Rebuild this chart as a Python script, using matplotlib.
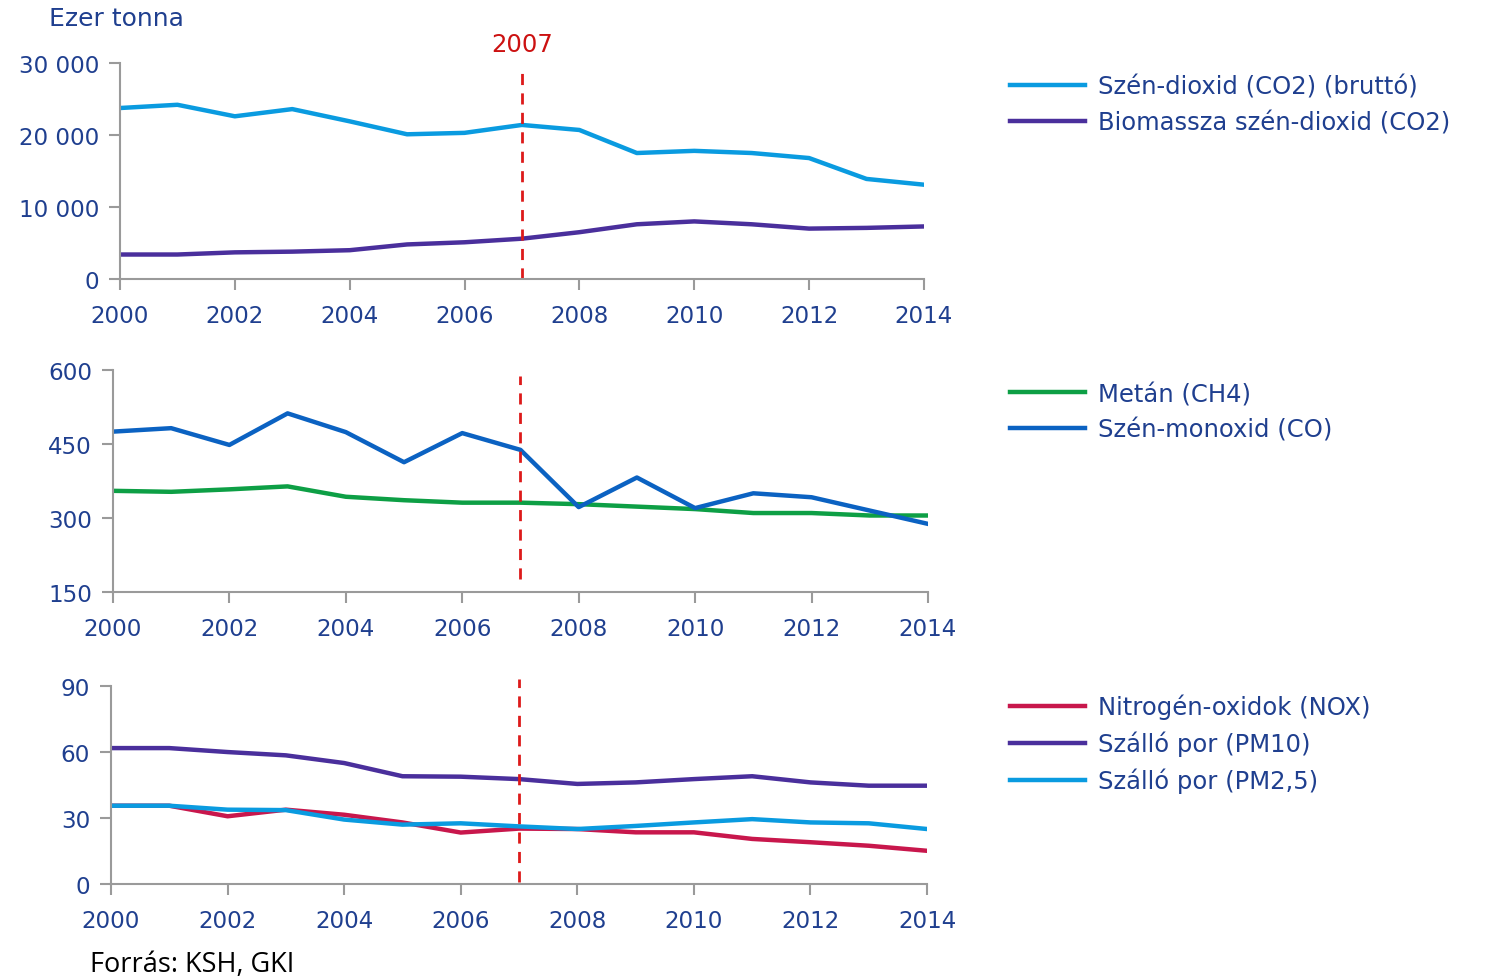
import numpy as np
import matplotlib.pyplot as plt
import matplotlib

matplotlib.rcParams['font.family'] = 'DejaVu Sans'

# Adatok

years = np.arange(2000, 2015)

co2_brutto = [23750, 24200, 22600, 23600, 21900, 20100, 20300, 21400, 20700, 17500, 17800, 17500, 16800, 13900, 13100]
co2_biomassza = [3400, 3400, 3700, 3800, 4000, 4800, 5100, 5600, 6500, 7600, 8000, 7600, 7000, 7100, 7300]

metan = [355, 353, 358, 364, 343, 336, 331, 331, 328, 323, 318, 310, 310, 305, 305]
szen_monoxid = [475, 482, 448, 512, 474, 413, 472, 438, 322, 382, 320, 350, 342, 315, 288]

nox = [35.6, 35.6, 30.8, 33.8, 31.5, 28.0, 23.4, 25.2, 25.0, 23.5, 23.5, 20.5, 19.0, 17.4, 15.1]
pm10 = [61.8, 61.8, 60.0, 58.5, 55.0, 49.0, 48.8, 47.7, 45.5, 46.2, 47.7, 49.0, 46.2, 44.7, 44.7]
pm25 = [35.6, 35.6, 33.8, 33.6, 29.3, 27.0, 27.6, 26.2, 25.0, 26.4, 28.0, 29.5, 28.0, 27.6, 25.0]

navy = '#1f3f8f'
c_lightblue = '#0a9be0'
c_purple = '#4a2f9c'
c_green = '#0d9f45'
c_blue = '#0b62c2'
c_crimson = '#c8174c'
c_red = '#dd1a1a'

fig = plt.figure(figsize=(14.96, 9.79), dpi=100)

ax1 = fig.add_axes([0.0802, 0.714, 0.5374, 0.2206])
ax2 = fig.add_axes([0.0755, 0.3943, 0.5448, 0.2268])
ax3 = fig.add_axes([0.0742, 0.096, 0.5455, 0.2022])


def style(ax, yticks, ylabels):
    for s in ['top', 'right']:
        ax.spines[s].set_visible(False)
    for s in ['left', 'bottom']:
        ax.spines[s].set_color('#9a9a9a')
        ax.spines[s].set_linewidth(1.5)
    ax.set_xlim(2000, 2014)
    ax.set_xticks(range(2000, 2015, 2))
    ax.set_ylim(yticks[0], yticks[-1])
    ax.set_yticks(yticks)
    ax.set_yticklabels(ylabels)
    ax.tick_params(axis='x', direction='out', length=8, width=1.5, color='#9a9a9a',
                   labelsize=16.6, labelcolor=navy, pad=10)
    ax.tick_params(axis='y', direction='out', length=8, width=1.5, color='#9a9a9a',
                   labelsize=16.6, labelcolor=navy, pad=7)


# Panel 1
ax1.plot(years, co2_brutto, color=c_lightblue, linewidth=3.2, label='Szén-dioxid (CO2) (bruttó)')
ax1.plot(years, co2_biomassza, color=c_purple, linewidth=3.2, label='Biomassza szén-dioxid (CO2)')
style(ax1, [0, 10000, 20000, 30000], ['0', '10 000', '20 000', '30 000'])
ax1.axvline(2007, ymin=0, ymax=0.963, color=c_red, linestyle=(0, (4, 3)), linewidth=2)
ax1.text(2007, 32650, '2007', color='#cc1111', fontsize=17.5, ha='center', va='center')
fig.text(0.033, 0.981, 'Ezer tonna', color=navy, fontsize=18, ha='left', va='center')

# Panel 2
ax2.plot(years, metan, color=c_green, linewidth=3.2, label='Metán (CH4)')
ax2.plot(years, szen_monoxid, color=c_blue, linewidth=3.2, label='Szén-monoxid (CO)')
style(ax2, [150, 300, 450, 600], ['150', '300', '450', '600'])
ax2.axvline(2007, ymin=0.0586, ymax=0.973, color=c_red, linestyle=(0, (4, 3)), linewidth=2)

# Panel 3
ax3.plot(years, nox, color=c_crimson, linewidth=3.2, label='Nitrogén-oxidok (NOX)')
ax3.plot(years, pm10, color=c_purple, linewidth=3.2, label='Szálló por (PM10)')
ax3.plot(years, pm25, color=c_lightblue, linewidth=3.2, label='Szálló por (PM2,5)')
style(ax3, [0, 30, 60, 90], ['0', '30', '60', '90'])
ax3.axvline(2007, ymin=0.01, ymax=1.035, color=c_red, linestyle=(0, (4, 3)), linewidth=2, clip_on=False)

# Jelmagyarazatok
for ax, ytop in [(ax1, 1 - 76 / 979), (ax2, 1 - 383 / 979), (ax3, 1 - 695 / 979)]:
    leg = ax.legend(loc='upper left', bbox_to_anchor=(1010 / 1496, ytop), bbox_transform=fig.transFigure,
                    frameon=False, fontsize=17.5, handlelength=3.1, handletextpad=0.5,
                    labelspacing=0.47, borderpad=0, borderaxespad=0)
    for t in leg.get_texts():
        t.set_color(navy)

fig.text(0.06, 0.014, 'Forrás: KSH, GKI', color='black', fontsize=19.5, family='Open Sans',
         ha='left', va='center')

plt.savefig('out.png', dpi=100)
